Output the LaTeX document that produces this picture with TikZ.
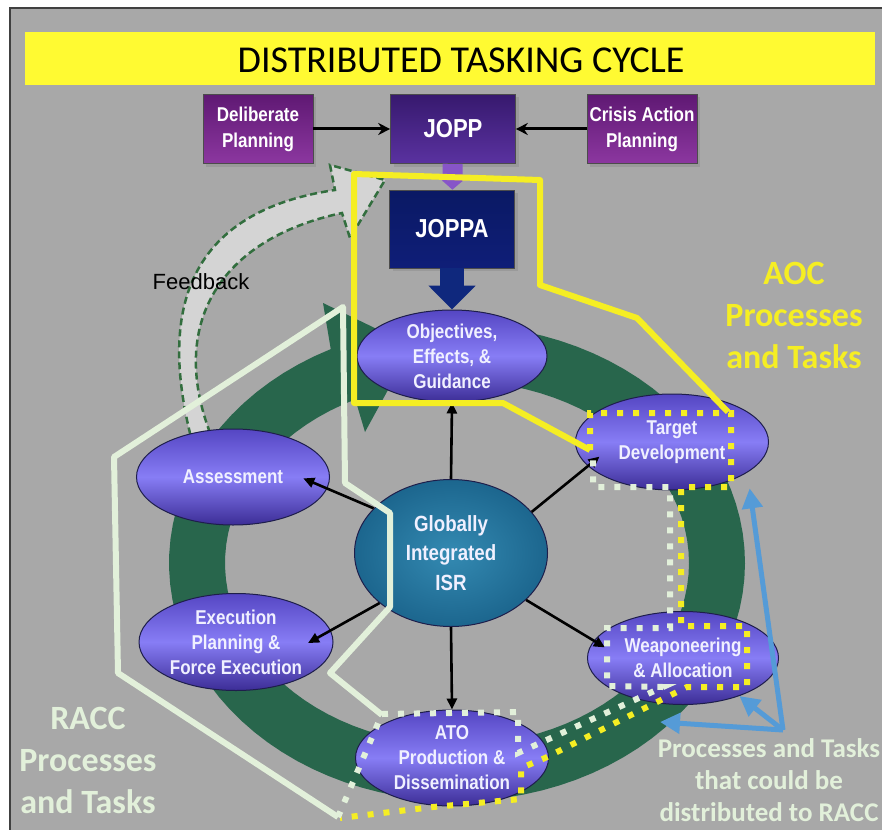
\documentclass[tikz,border=0pt]{standalone}
\usepackage{fontspec}
\setmainfont{Liberation Sans}
\newfontfamily\narrowsans[FakeStretch=0.85]{Liberation Sans}
\newfontfamily\calibrisans{Carlito}
\usetikzlibrary{shapes.geometric, arrows.meta, shadows}

\definecolor{panelgray}{RGB}{168,168,168}
\definecolor{titleyellow}{RGB}{255,250,50}
\definecolor{aocyellow}{RGB}{245,238,35}
\definecolor{raccmint}{RGB}{226,240,218}
\definecolor{ringgreen}{RGB}{40,102,76}
\definecolor{feedgray}{RGB}{212,212,212}
\definecolor{feedgreen}{RGB}{50,110,62}
\definecolor{sharedblue}{RGB}{85,155,215}
\definecolor{procedge}{RGB}{30,30,75}
\definecolor{proctop}{RGB}{85,70,195}
\definecolor{procmid}{RGB}{135,125,245}
\definecolor{procbot}{RGB}{60,45,150}
\definecolor{proclabel}{RGB}{240,240,255}

\begin{document}
\begin{tikzpicture}[x=1pt, y=-1pt,
    box/.style={draw=black!70, line width=0.6pt, minimum height=69pt, inner sep=2pt, align=center,
        text=white, font=\narrowsans\bfseries\fontsize{20}{26}\selectfont,
        drop shadow={shadow xshift=3pt, shadow yshift=-3pt, opacity=0.35}},
    planbox/.style={top color={rgb,255:red,95;green,25;blue,115}, bottom color={rgb,255:red,140;green,55;blue,160}},
    proc/.style={ellipse, draw=procedge, line width=1pt, inner sep=-4pt,
        top color=proctop, bottom color=procbot, middle color=procmid,
        minimum width=193pt, minimum height=96pt, align=center, text=proclabel,
        font=\narrowsans\bfseries\fontsize{20}{25}\selectfont},
    link/.style={line width=2.6pt, -{Triangle[length=11pt,width=10pt]}},
    flow/.style={line width=3pt, -{Stealth[length=12pt,width=12pt]}},
    aocline/.style={aocyellow, line width=6pt, line join=round},
    raccline/.style={raccmint, line width=6pt, line join=round},
    aocdots/.style={aocyellow, line width=6pt, dash pattern=on 6pt off 10pt},
    raccdots/.style={raccmint, line width=6pt, dash pattern=on 6pt off 10pt},
    share/.style={sharedblue, line width=5pt, -{Triangle[length=20pt,width=20pt]}},
    bigtext/.style={align=center, font=\calibrisans\bfseries\fontsize{34}{42}\selectfont}]

    \useasboundingbox (0,0) rectangle (882,829);
    \fill[white] (0,0) rectangle (882,829);
    \draw[draw=black!75, line width=2pt, fill=panelgray] (10,8) rectangle (890,840);

    \fill[titleyellow] (25,32) rectangle (875,85);
    \node[font=\calibrisans\fontsize{38}{40}\selectfont] (title) at (461,60.5) {DISTRIBUTED TASKING CYCLE};

    % planning cycle ring with its head just left of the objectives
    \fill[ringgreen] plot[domain=-80:244, samples=90] ({457+288*cos(\x)}, {563+238*sin(\x)})
        -- (323,303) -- (412,346) -- (365,432)
        -- plot[domain=244:-80, samples=90] ({457+232*cos(\x)}, {563+182*sin(\x)}) -- cycle;

    % feedback arrow
    \filldraw[fill=feedgray, draw=feedgreen, line width=2.5pt, dash pattern=on 7pt off 4pt]
        (193,445) .. controls (165,340) and (165,215) .. (335,190) -- (330,165) -- (385,180)
        -- (350,238) -- (342,213) .. controls (215,240) and (165,330) .. (215,445);
    \node[font=\fontsize{22}{24}\selectfont] (fbtext) at (201,282) {Feedback};

    \node[box, planbox, minimum width=110pt] (delib) at (258,129) {Deliberate\\Planning};
    \node[box, minimum width=125pt, font=\narrowsans\bfseries\fontsize{26}{28}\selectfont,
        top color={rgb,255:red,55;green,25;blue,110}, bottom color={rgb,255:red,90;green,50;blue,160}] (jopp) at (453,129) {JOPP};
    \node[box, planbox, minimum width=110pt] (crisis) at (642,129) {Crisis Action\\Planning};
    \node[box, minimum width=125pt, minimum height=78pt, font=\narrowsans\bfseries\fontsize{26}{28}\selectfont,
        top color={rgb,255:red,10;green,25;blue,100}, middle color={rgb,255:red,28;green,42;blue,158},
        bottom color={rgb,255:red,15;green,30;blue,120}] (joppa) at (452,229) {JOPPA};

    \draw[flow] (delib) -- (jopp);
    \draw[flow] (crisis) -- (jopp);
    \draw[line width=20pt, color={rgb,255:red,135;green,85;blue,200}, -{Triangle[length=9pt,width=20pt]}] (jopp) -- (joppa);

    \node[proc, minimum width=190pt, minimum height=92pt] (obj) at (452,356) {Objectives,\\Effects, \&\\Guidance};
    \draw[line width=24pt, color={rgb,255:red,15;green,40;blue,125}, -{Triangle[length=24pt,width=46pt]}] (joppa) -- (obj);

    \node[proc] (tgt) at (672,442) {Target\\Development};
    \node[proc, minimum width=191pt, minimum height=93pt] (wpn) at (683,658) {Weaponeering\\\& Allocation};
    \node[proc] (ato) at (452,758) {ATO\\Production \&\\Dissemination};
    \node[proc, minimum width=194pt, minimum height=97pt] (exe) at (236,642) {Execution\\Planning \&\\Force Execution};
    \node[proc] (asm) at (233,477) {Assessment};
    \node[ellipse, draw=procedge, line width=1pt, inner color={rgb,255:red,52;green,138;blue,178},
        outer color={rgb,255:red,28;green,102;blue,142}, minimum width=193pt, minimum height=147pt,
        align=center, text=proclabel, font=\narrowsans\bfseries\fontsize{22}{29.5}\selectfont] (isr) at (451,553) {Globally\\Integrated\\ISR};

    \draw[link] (isr.90) -- (obj.-90);
    \draw[link, shorten >=-26pt] (isr.150) -- (asm.-7);
    \draw[link, shorten >=-15pt] (isr.27) -- (tgt.196);
    \draw[link, shorten >=-13pt] (isr.-32) -- (wpn.169);
    \draw[link, shorten >=-26pt] (isr.215) -- (exe.7);
    \draw[link] (isr.-90) -- (ato.90);

    % AOC and RACC boundaries
    \draw[aocline] (590,450) -- (503,403) -- (354,403) -- (354,174) -- (540,180) -- (540,285) -- (637,318) -- (728,412);
    \draw[aocdots] (590,450) -- (590,413) -- (731,413) -- (731,487) -- (681,487) -- (681,626) -- (747,626)
        -- (747,687) -- (687,687) -- (545,758) -- (521,768) -- (521,799) -- (433,807) -- (340,818);
    \draw[raccline] (382,715) -- (330,673) -- (390,607) -- (390,513) -- (345,483) -- (343,307)
        -- (114,457) -- (118,673) -- (338,817);
    \draw[raccdots] (338,817) -- (382,714) -- (518,712) -- (518,753) -- (663,687) -- (607,686)
        -- (607,628) -- (670,628) -- (670,487) -- (593,487) -- (593,452);

    \coordinate (hub) at (783,730);
    \coordinate (gap) at (660,722);
    \draw[share, shorten >=16pt] (hub) -- (tgt.-22);
    \draw[share] (hub) -- (wpn.-34);
    \draw[share] (hub) -- (gap);

    \node[bigtext, text=aocyellow] (aoc) at (794,315) {AOC\\Processes\\and Tasks};
    \node[bigtext, text=raccmint] (racc) at (88,760) {RACC\\Processes\\and Tasks};
    \node[align=center, text=raccmint, font=\calibrisans\bfseries\fontsize{27}{32}\selectfont] (shared) at (769,780)
        {Processes and Tasks\\that could be\\distributed to RACC};
\end{tikzpicture}
\end{document}
